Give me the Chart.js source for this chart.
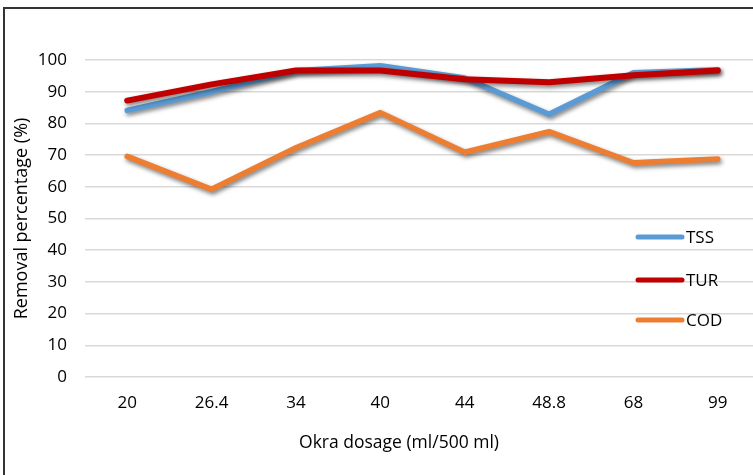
<!DOCTYPE html>
<html>
<head>
<meta charset="utf-8">
<script src="https://cdn.jsdelivr.net/npm/chart.js@4.4.0/dist/chart.umd.min.js"></script>
<style>
    html, body { margin: 0; padding: 0; background: #fff; overflow: hidden; }
    #wrap { position: relative; width: 753px; height: 475px; overflow: hidden; }
    #frame { position: absolute; left: 3px; top: 7px; width: 800px; height: 500px; border-left: 2px solid #333; border-top: 2px solid #333; box-sizing: border-box; pointer-events: none; }
    #c { position: absolute; left: 0; top: 0; }
</style>
</head>
<body>
<div id="wrap">
    <canvas id="c" width="760" height="475"></canvas>
    <div id="frame"></div>
</div>
<script>
const dosage = ["20", "26.4", "34", "40", "44", "48.8", "68", "99"];
const tss = [84.1, 90.0, 96.6, 98.2, 94.3, 82.9, 96.0, 96.9];
const tur = [87.2, 92.3, 96.7, 96.7, 93.9, 93.0, 95.2, 96.7];
const cod = [69.6, 59.2, 72.3, 83.4, 70.9, 77.4, 67.6, 68.8];
const yTicks = [0, 10, 20, 30, 40, 50, 60, 70, 80, 90, 100];
const xTitle = 'Okra dosage (ml/500 ml)';
const yTitle = 'Removal percentage (%)';

const FONT = "'Open Sans', sans-serif";
Chart.defaults.font.family = FONT;
Chart.defaults.color = '#000';

// excel-ish drop shadow under each line
const shadow = {
    id: 'shadow',
    beforeDatasetDraw(chart) {
        const c = chart.ctx;
        c.save();
        c.shadowColor = 'rgba(0,0,0,0.5)';
        c.shadowBlur = 4;
        c.shadowOffsetX = 1.5;
        c.shadowOffsetY = 2.5;
    },
    afterDatasetDraw(chart) {
        chart.ctx.restore();
    }
};

// legend sits inside the plot, on the right; x title is centred on the visible picture
const extras = {
    id: 'extras',
    afterDraw(chart) {
        const c = chart.ctx;
        const ys = [237, 280, 320];
        chart.data.datasets.forEach((d, i) => {
            c.save();
            c.strokeStyle = d.borderColor;
            c.lineWidth = 5;
            c.lineCap = 'round';
            c.beginPath();
            c.moveTo(638, ys[i]);
            c.lineTo(682, ys[i]);
            c.stroke();
            c.fillStyle = '#000';
            c.font = '17px ' + FONT;
            c.textBaseline = 'middle';
            c.fillText(d.label, 686, ys[i] + 1);
            c.restore();
        });
        c.save();
        c.fillStyle = '#000';
        c.font = '17.5px ' + FONT;
        c.textAlign = 'center';
        c.textBaseline = 'middle';
        c.fillText(xTitle, 399, 443);
        c.restore();
    }
};

function line(label, data, color, w, order) {
    return {
        label: label,
        data: data,
        borderColor: color,
        backgroundColor: color,
        borderWidth: w,
        borderCapStyle: 'round',
        borderJoinStyle: 'round',
        pointRadius: 0,
        tension: 0,
        order: order
    };
}

new Chart(document.getElementById('c'), {
    type: 'line',
    data: {
        labels: dosage,
        datasets: [
            line('TSS', tss, '#5B9BD5', 5.5, 3),
            line('TUR', tur, '#C00000', 6, 2),
            line('COD', cod, '#ED7D31', 5.5, 1)
        ]
    },
    options: {
        responsive: false,
        animation: false,
        layout: { padding: { top: 60, right: 0, bottom: 14, left: 0 } },
        plugins: {
            legend: { display: false },
            tooltip: { enabled: false }
        },
        scales: {
            x: {
                offset: true,
                grid: { display: false, offset: true },
                border: { display: false },
                ticks: { font: { size: 17 }, padding: 8, maxRotation: 0 },
                afterFit(s) { s.height = 84; }
            },
            y: {
                min: 0,
                max: 100,
                afterFit(s) { s.width = 85; },
                afterBuildTicks(s) { s.ticks = yTicks.map(v => ({ value: v })); },
                grid: { color: '#D9D9D9', lineWidth: 1.5, drawTicks: false },
                border: { display: false },
                ticks: { font: { size: 17 }, padding: 18 },
                title: { display: true, text: yTitle, font: { size: 18 }, padding: { top: 11, bottom: 0 } }
            }
        }
    },
    plugins: [shadow, extras]
});
</script>
</body>
</html>
